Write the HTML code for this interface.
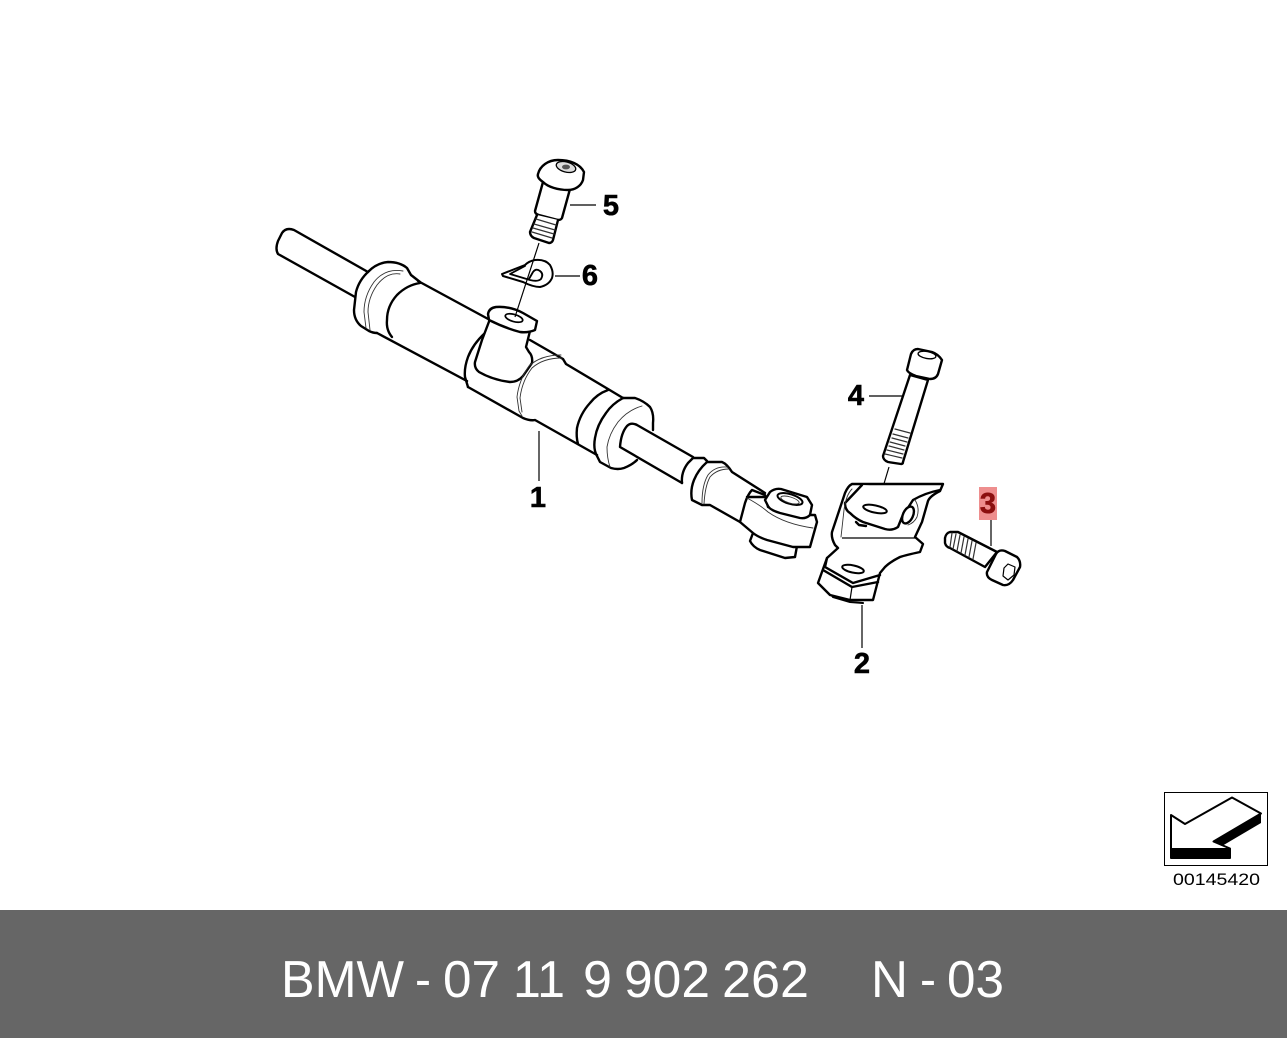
<!DOCTYPE html>
<html><head><meta charset="utf-8"><style>
html,body{margin:0;padding:0;background:#fff}
svg{display:block}
.k{fill:#fff;stroke:#000;stroke-width:2.4;stroke-linejoin:round;stroke-linecap:round}
.n{fill:none;stroke:#000;stroke-width:2.4;stroke-linejoin:round;stroke-linecap:round}
.t{fill:none;stroke:#333;stroke-width:.9;stroke-linecap:round}
.l{fill:none;stroke:#000;stroke-width:1.2}
.lb{font:bold 29px "Liberation Sans",sans-serif;fill:#000;stroke:#000;stroke-width:.6;text-anchor:middle}
.f{font-family:"Liberation Sans",sans-serif;font-size:52px;fill:#fff}
</style></head><body>
<svg width="1287" height="1038" viewBox="0 0 1287 1038" xmlns="http://www.w3.org/2000/svg">
<rect width="1287" height="1038" fill="#fff"/>

<!-- rod left -->
<path class="n" d="M368,272 L294,230 Q286,227 282,233 L278,241 Q275,249 278,254 L355,297"/>
<!-- left flange -->
<path class="n" d="M369,271 Q359,280 356,292 L354,310 Q354,320 361,326 L369,331 Q373,333 377,333"/>
<path class="n" d="M369,271 Q377,263 388,262 Q400,262 407,268 L411,275 L420,282"/>
<path class="t" d="M403,271 Q385,268 374,282 Q364,296 364,312 L366,328"/>
<path class="t" d="M400,274 Q387,272 377,285 Q368,298 368,312 L370,330"/>
<path class="n" d="M420,283 Q407,285 397,295 Q387,306 387,320 Q386,330 392,337"/>
<!-- body lines -->
<path class="n" d="M418,281 L490,320"/>
<path class="n" d="M377,333 L467,381"/>
<path class="n" d="M530,340 L563,359 L566,364 L608,389 L623,398"/>
<path class="n" d="M468,387 L523,418 Q530,421 535,420 L597,455"/>
<!-- collar -->
<path class="n" d="M485,333 Q473,344 468,357 Q464,368 465,377 L468,387"/>
<!-- port -->
<path class="k" d="M490,319 L482,340 L475,362 Q474,368 479,372 Q493,380 510,382 Q518,382 523,376 L532,363 Q533,356 529,352 L526,347 L530,331 Z"/>
<path class="k" d="M488,314 Q489,308 496,307 Q510,306 523,313 L537,321 L535,330 Q528,333 520,332 Q505,328 489,320 Z"/>
<ellipse cx="514" cy="318" rx="9" ry="3.6" transform="rotate(16 514 318)" fill="#fff" stroke="#000" stroke-width="1.7"/>
<!-- thin junction rings -->
<path class="t" d="M561,355 Q541,355 529,366 Q519,380 517,397 L519,411 L522,416"/>
<path class="t" d="M562,358 Q543,358 532,368 Q522,381 520,398 L522,412"/>
<!-- rubber rings -->
<path class="n" d="M608,390 Q597,394 590,403 Q580,414 577,428 Q576,437 578,444"/>
<path class="n" d="M623,398 Q612,404 606,413 Q597,425 595,438 Q593,449 597,456 L600,462 L611,468 Q618,470 624,468 Q632,465 637,460"/>
<path class="n" d="M623,398 L635,398 Q644,401 650,407 Q654,413 653,423 L653,430"/>
<path class="t" d="M642,406 Q628,410 618,422 Q609,434 607,447 Q607,458 610,467"/>
<!-- inner rod -->
<path class="n" d="M693,457 L637,425 Q631,422 627,426 Q621,433 620,447 L682,483"/>
<path class="n" d="M682,483 Q681,472 688,463 L693,458 L704,458 L707,461"/>
<path class="n" d="M707,462 Q698,470 694,480 Q690,490 692,500 L702,505 L710,505 L740,522"/>
<path class="n" d="M707,462 L722,462 Q727,464 732,472 L765,493"/>
<path class="t" d="M727,467 Q715,466 708,475 Q702,485 702,503"/>
<path class="t" d="M729,469 Q717,469 710,477 Q705,486 704,504"/>
<!-- eye -->
<path class="k" d="M753,533 L750,541 Q753,547 760,550 L785,558 L795,557 L797,546 Z"/>
<path class="k" d="M740,522 L745,503 Q748,494 752,490 L765,495 L768,507 L790,515 L815,515 L817,522 L810,547 L793,547 L767,540 Q758,537 753,533 Z"/>
<path class="n" d="M747,497 L765,497"/>
<path class="t" d="M747,498 Q760,505 768,512 Q785,524 813,528"/>
<path class="k" d="M765,500 L770,492 Q775,488 781,489 L807,497 L812,505 L810,515 Q806,519 800,518 L780,513 Q770,510 768,506 Z"/>
<ellipse cx="790" cy="499" rx="13" ry="4.8" transform="rotate(17 790 499)" fill="#fff" stroke="#000" stroke-width="2"/>
<ellipse class="t" cx="790" cy="500" rx="9.5" ry="3" transform="rotate(17 790 500)"/>

<!-- Part 5 bolt -->
<path class="k" d="M543,182 L535,211 Q535,214 539,215 L558,220 Q561,220 562,218 L570,189 Z"/>
<path class="k" d="M537,215 L530,232 Q530,236 534,238 L549,243 Q552,243 553,240 L558,220"/>
<path class="t" style="stroke-width:1.2" d="M536,219 L556,225 M534,224 L555,230 M533,228 L554,234 M532,232 L552,238"/>
<path class="k" d="M538,174 C540,166 548,160 558,160 C570,160 580,164 584,172 L583,180 C581,186 575,190 568,190 C558,190 548,187 543,182 C540,180 537,177 538,174 Z"/>
<ellipse cx="566" cy="167" rx="10" ry="5" transform="rotate(15 566 167)" fill="#ddd" stroke="#000" stroke-width="1.3"/>
<ellipse cx="566" cy="167" rx="4" ry="2.4" fill="#555"/>
<!-- Part 6 washer -->
<path class="k" style="stroke-width:2" d="M502,274 L525,265 Q529,261 535,260 Q545,259 550,265 Q554,272 552,278 Q549,285 540,287 Q533,287 523,282 L503,276 Z"/>
<path class="n" style="stroke-width:1.8" d="M525,266 L510,274 L530,280 Q538,282 541,279 Q544,274 540,271 Q536,268 533,272 L529,279"/>
<!-- centre line -->
<path class="l" d="M539,243 L515,317"/>

<!-- Part 4 bolt -->
<path class="k" d="M910,375 L883,456 Q883,460 888,462 L901,464 Q903,464 903,462 L928,380 Z"/>
<path class="t" style="stroke-width:1.2" d="M895,429 L910,433 M893,434 L908,438 M892,438 L907,442 M890,442 L905,446 M889,446 L904,450 M887,450 L903,454 M885,454 L902,458"/>
<path class="k" d="M907,370 L911,354 Q913,349 918,349 L932,352 Q938,354 942,360 L938,374 Q936,379 930,379 L916,376 Q908,373 907,370 Z"/>
<ellipse cx="927" cy="355" rx="9" ry="3.5" transform="rotate(10 927 355)" fill="#fff" stroke="#000" stroke-width="1.4"/>
<path class="l" d="M889,467 L877,507"/>

<!-- Part 2 bracket -->
<path class="n" style="stroke-width:2" d="M828,590 L833,597 L850,602 L863,603"/>
<path class="k" d="M852,484 L943,484 L940,491 Q930,496 928,501 L922,522 L915,537 L923,544 L920,552 Q906,555 900,557 Q890,562 885,567 L880,573 L873,600 L850,600 L830,595 L818,583 L827,558 L838,548 L835,545 Q831,538 832,532 L837,517 L845,493 Q848,486 852,484 Z"/>
<path class="n" d="M856,522 L859,525 L866,526"/>
<path class="k" d="M862,485 L845,503 Q845,510 850,513 Q856,519 863,522 L885,529 Q892,531 898,527 L902,517 L913,500 Q925,493 940,490"/>
<path class="t" d="M852,489 Q846,495 844,510 L841,537"/>
<path class="l" d="M842,538 L915,538"/>
<path class="t" d="M915,500 Q920,508 917,517 Q914,523 908,525"/>
<ellipse cx="908" cy="515" rx="5" ry="9" transform="rotate(25 908 515)" fill="#fff" stroke="#000" stroke-width="2.4"/>
<ellipse cx="875" cy="509" rx="12" ry="3.6" transform="rotate(12 875 509)" fill="#fff" stroke="#000" stroke-width="2"/>
<path class="n" d="M827,558 L825,567 L853,583 L880,575"/>
<path class="n" d="M823,570 L852,587 L878,582"/>
<path class="l" d="M852,587 L850,600"/>
<ellipse cx="853" cy="569" rx="11" ry="3.6" transform="rotate(12 853 569)" fill="#fff" stroke="#000" stroke-width="2"/>

<!-- Part 3 bolt -->
<path class="k" d="M958,532 L950,532 Q946,533 945,538 L945,543 Q946,547 950,548 L985,567 L997,552 Z"/>
<path class="t" style="stroke-width:1.2" d="M952,533 L950,547 M956,534 L953,549 M960,535 L957,551 M964,537 L961,553 M968,539 L965,555 M972,541 L969,557 M976,543 L973,559"/>
<path class="k" d="M987,572 L996,554 Q999,549 1005,551 L1017,557 Q1021,561 1020,567 L1013,580 Q1009,586 1003,585 L992,580 Q986,577 987,572 Z"/>
<path class="n" style="stroke-width:1.2" d="M1008,564 L1015,567 L1014,575 L1008,580 L1003,576 L1004,568 Z"/>

<!-- Leader lines -->
<g class="l">
<path d="M570,205 L596,205"/>
<path d="M555,276 L580,276"/>
<path d="M539,431 L539,481"/>
<path d="M862,605 L862,648"/>
<path d="M869,396 L902,396"/>
<path d="M991,518 L991,546"/>
</g>

<!-- Labels -->
<text class="lb" x="611" y="215">5</text>
<text class="lb" x="590" y="285">6</text>
<text class="lb" x="538" y="507">1</text>
<text class="lb" x="862" y="673">2</text>
<text class="lb" x="856" y="405">4</text>
<rect x="979" y="487" width="18" height="33" fill="#ee8e8e"/>
<text class="lb" x="988" y="513" style="fill:#8b0f0f;stroke:#8b0f0f">3</text>

<!-- Legend -->
<rect x="1164.5" y="792.5" width="103" height="73" fill="#fff" stroke="#000" stroke-width="1"/>
<path fill="#fff" stroke="#000" stroke-width="2" stroke-linejoin="round" d="M1171,815 L1185,824 L1232,797.5 L1261,813.5 L1213.5,841.5 L1230,848.5 L1230,858 L1171,858 Z"/>
<path fill="#000" d="M1261,813.5 L1261,823 L1222,846 L1213.5,841.5 Z"/>
<rect x="1170" y="848" width="60" height="10" fill="#000"/>
<text x="1173" y="885" font-family="Liberation Sans, sans-serif" font-size="17" textLength="87" lengthAdjust="spacingAndGlyphs" fill="#000">00145420</text>

<!-- Footer -->
<rect x="0" y="910" width="1287" height="128" fill="#666666"/>
<text class="f" x="281" y="997" textLength="123" lengthAdjust="spacingAndGlyphs">BMW</text>
<text class="f" x="415" y="997" textLength="16" lengthAdjust="spacingAndGlyphs">-</text>
<text class="f" x="443" y="997" textLength="57" lengthAdjust="spacingAndGlyphs">07</text>
<text class="f" x="513" y="997" textLength="52" lengthAdjust="spacingAndGlyphs">11</text>
<text class="f" x="583" y="997" textLength="29" lengthAdjust="spacingAndGlyphs">9</text>
<text class="f" x="624" y="997" textLength="86" lengthAdjust="spacingAndGlyphs">902</text>
<text class="f" x="722" y="997" textLength="87" lengthAdjust="spacingAndGlyphs">262</text>
<text class="f" x="871" y="997" textLength="37" lengthAdjust="spacingAndGlyphs">N</text>
<text class="f" x="920" y="997" textLength="16" lengthAdjust="spacingAndGlyphs">-</text>
<text class="f" x="947" y="997" textLength="57" lengthAdjust="spacingAndGlyphs">03</text>
</svg>
</body></html>
